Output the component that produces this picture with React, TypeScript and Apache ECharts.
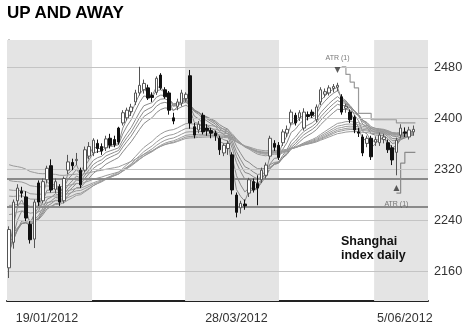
import React, { useEffect, useRef } from "react";
import * as echarts from "echarts";

// Daily OHLC of the Shanghai index
const openP = [2165,2205,2270,2285,2276,2233,2210,2298,2270,2303,2325,2288,2292,2270,2318,2330,2333,2318,2318,2340,2345,2360,2355,2353,2368,2366,2384,2392,2400,2410,2425,2439,2444,2447,2435,2440,2467,2444,2439,2400,2418,2423,2430,2466,2386,2381,2404,2384,2380,2376,2368,2345,2352,2342,2279,2259,2265,2282,2300,2297,2303,2310,2340,2360,2357,2361,2376,2392,2404,2400,2384,2405,2409,2397,2425,2437,2439,2446,2448,2433,2415,2409,2401,2378,2370,2360,2368,2362,2361,2366,2361,2353,2346,2373,2378,2370,2378];
const closeP = [2225,2268,2290,2282,2243,2209,2268,2268,2300,2321,2287,2300,2268,2305,2331,2325,2335,2295,2350,2355,2365,2352,2348,2367,2357,2358,2362,2408,2412,2417,2439,2451,2454,2431,2432,2462,2447,2433,2412,2395,2425,2439,2437,2392,2373,2390,2378,2380,2376,2372,2350,2357,2360,2287,2252,2266,2262,2303,2287,2290,2318,2326,2368,2354,2338,2378,2382,2409,2392,2408,2409,2402,2404,2417,2444,2441,2447,2449,2451,2409,2418,2397,2381,2376,2345,2368,2339,2366,2373,2370,2350,2334,2365,2384,2376,2381,2382];
const lowP = [2149,2195,2262,2275,2238,2203,2196,2262,2266,2298,2283,2282,2262,2266,2312,2318,2326,2290,2315,2335,2340,2345,2342,2348,2352,2354,2358,2388,2396,2403,2420,2435,2438,2428,2425,2436,2444,2430,2405,2390,2412,2418,2425,2383,2368,2376,2374,2372,2368,2364,2342,2340,2342,2280,2244,2250,2256,2276,2283,2263,2298,2305,2335,2348,2334,2356,2370,2388,2388,2395,2380,2396,2400,2393,2420,2432,2435,2440,2442,2405,2408,2392,2376,2370,2340,2354,2334,2356,2356,2360,2345,2326,2310,2368,2370,2366,2372];
const highP = [2230,2272,2296,2292,2285,2238,2272,2302,2305,2325,2335,2305,2296,2308,2342,2336,2345,2322,2355,2362,2368,2366,2360,2372,2375,2372,2386,2412,2416,2422,2444,2480,2460,2452,2440,2465,2470,2448,2442,2408,2430,2444,2440,2475,2392,2395,2408,2390,2384,2380,2372,2360,2364,2346,2283,2270,2272,2306,2305,2310,2322,2330,2372,2365,2362,2382,2388,2413,2408,2412,2415,2410,2413,2421,2448,2446,2451,2453,2455,2437,2422,2413,2404,2384,2374,2372,2372,2371,2377,2375,2366,2357,2369,2390,2385,2386,2388];

// Moving-average ribbon (periods, and their levels at the left edge)
const emaPeriods = [3, 5, 8, 10, 12, 15, 30, 35, 40, 45, 50, 60];
const emaSeeds = [2165, 2170, 2180, 2190, 2200, 2210, 2250, 2265, 2280, 2290, 2305, 2330];

// Axis ticks and labels
const yTicks = [2160, 2240, 2320, 2400, 2480];
const supportLevels = [2304, 2260];
const xLabelIdx = [9, 54, 94];
const xLabelText = ["19/01/2012", "28/03/2012", "5/06/2012"];

// Shaded periods (in day positions)
const bandFrom = [-0.5, 41.8, 86.7];
const bandTo = [19.7, 64.1, 99.5];

// ATR trailing stops
const upperAtrIdx = [79, 80, 81, 82, 83, 86, 92, 96.5];
const upperAtrVal = [2480, 2468, 2456, 2447, 2407, 2397, 2392, 2392];
const lowerAtrIdx = [92, 93, 94, 96.5];
const lowerAtrVal = [2282, 2329, 2346, 2346];
const atrMarkerIdx = [78, 92];
const atrMarkerVal = [2475, 2290];

const FONT = "'Liberation Sans', Arial, sans-serif";

function ema(period: number, seed: number): number[][] {
  const k = 2 / (period + 1);
  const out: number[][] = [];
  let v = seed;
  closeP.forEach((c, i) => {
    v = v + k * (c - v);
    out.push([i, +v.toFixed(2)]);
  });
  return out;
}

export default function App() {
  const ref = useRef<HTMLDivElement>(null);
  useEffect(() => {
    document.body.style.margin = "0";
    const chart = echarts.init(ref.current!, null, { renderer: "svg" });
    const emaSeries = emaPeriods.map((p, j) => ({
      type: "line",
      name: "EMA" + p,
      data: ema(p, emaSeeds[j]),
      showSymbol: false,
      silent: true,
      z: 3,
      lineStyle: { color: j < 6 ? "#8a8a8a" : "#9a9a9a", width: 1 },
    }));
    chart.setOption({
      animation: false,
      textStyle: { fontFamily: FONT },
      grid: { left: 7, right: 42, top: 40, bottom: 30 },
      graphic: [
        {
          type: "text",
          left: 7,
          top: 4,
          style: { text: "UP AND AWAY", font: `900 17px ${FONT}`, fill: "#000" },
        },
        {
          type: "text",
          left: 341,
          top: 234,
          z: 20,
          style: { text: "Shanghai", font: `bold 12.5px ${FONT}`, fill: "#111" },
        },
        {
          type: "text",
          left: 341,
          top: 248,
          z: 20,
          style: { text: "index daily", font: `bold 12.5px ${FONT}`, fill: "#111" },
        },
      ],
      xAxis: {
        type: "value",
        min: -0.5,
        max: 99.5,
        splitLine: { show: false },
        axisLine: { show: true, onZero: false, lineStyle: { color: "#222", width: 2 } },
        axisTick: { show: false },
        axisLabel: {
          customValues: xLabelIdx,
          formatter: (v: number) => xLabelText[xLabelIdx.indexOf(Math.round(v))] ?? "",
          color: "#333",
          fontSize: 12.5,
          margin: 10,
          fontFamily: FONT,
        },
      },
      yAxis: {
        type: "value",
        position: "right",
        min: 2113,
        max: 2522,
        splitLine: { show: false },
        axisLine: { show: true, lineStyle: { color: "#777", width: 1.5 } },
        axisTick: { show: true, customValues: yTicks, length: 3, lineStyle: { color: "#555" } },
        axisLabel: {
          customValues: yTicks,
          formatter: (v: number) => String(v),
          color: "#333",
          fontSize: 12.7,
          margin: 6,
          fontFamily: FONT,
        },
      },
      series: [
        {
          type: "line",
          name: "bg",
          data: [],
          silent: true,
          z: 0,
          markArea: {
            silent: true,
            itemStyle: { color: "#e4e4e4" },
            data: bandFrom.map((a, i) => [{ xAxis: a }, { xAxis: bandTo[i] }]),
          },
          markLine: {
            silent: true,
            symbol: "none",
            label: { show: false },
            data: [
              ...yTicks.map((v) => ({ yAxis: v, lineStyle: { color: "#c4c4c4", width: 1, type: "solid" } })),
              ...supportLevels.map((v) => ({ yAxis: v, lineStyle: { color: "#8a8a8a", width: 2, type: "solid" } })),
            ],
          },
        },
        ...emaSeries,
        {
          type: "candlestick",
          name: "Shanghai",
          z: 5,
          barWidth: 3,
          data: openP.map((o, i) => [i, o, closeP[i], lowP[i], highP[i]]),
          encode: { x: 0, y: [1, 2, 3, 4] },
          itemStyle: {
            color: "#ffffff",
            color0: "#111111",
            borderColor: "#555555",
            borderColor0: "#111111",
            borderWidth: 1,
          },
        },
        {
          type: "line",
          name: "ATR upper",
          step: "end",
          z: 4,
          showSymbol: false,
          data: upperAtrIdx.map((x, i) => [x, upperAtrVal[i]]),
          lineStyle: { color: "#9a9a9a", width: 1.2 },
        },
        {
          type: "line",
          name: "ATR lower",
          step: "end",
          z: 4,
          showSymbol: false,
          data: lowerAtrIdx.map((x, i) => [x, lowerAtrVal[i]]),
          lineStyle: { color: "#8a8a8a", width: 1.2 },
        },
        {
          type: "scatter",
          name: "ATR markers",
          z: 6,
          symbol: "triangle",
          symbolSize: 6,
          data: [
            {
              value: [atrMarkerIdx[0], atrMarkerVal[0]],
              symbolRotate: 180,
              label: { show: true, position: "top", distance: 6, formatter: "ATR (1)", fontSize: 7, color: "#555" },
            },
            {
              value: [atrMarkerIdx[1], atrMarkerVal[1]],
              label: { show: true, position: "bottom", distance: 9, formatter: "ATR (1)", fontSize: 7, color: "#555" },
            },
          ],
          itemStyle: { color: "#333" },
        },
      ],
    });
    return () => chart.dispose();
  }, []);
  return <div ref={ref} style={{ position: "fixed", left: 0, top: 0, width: 470, height: 331 }} />;
}
